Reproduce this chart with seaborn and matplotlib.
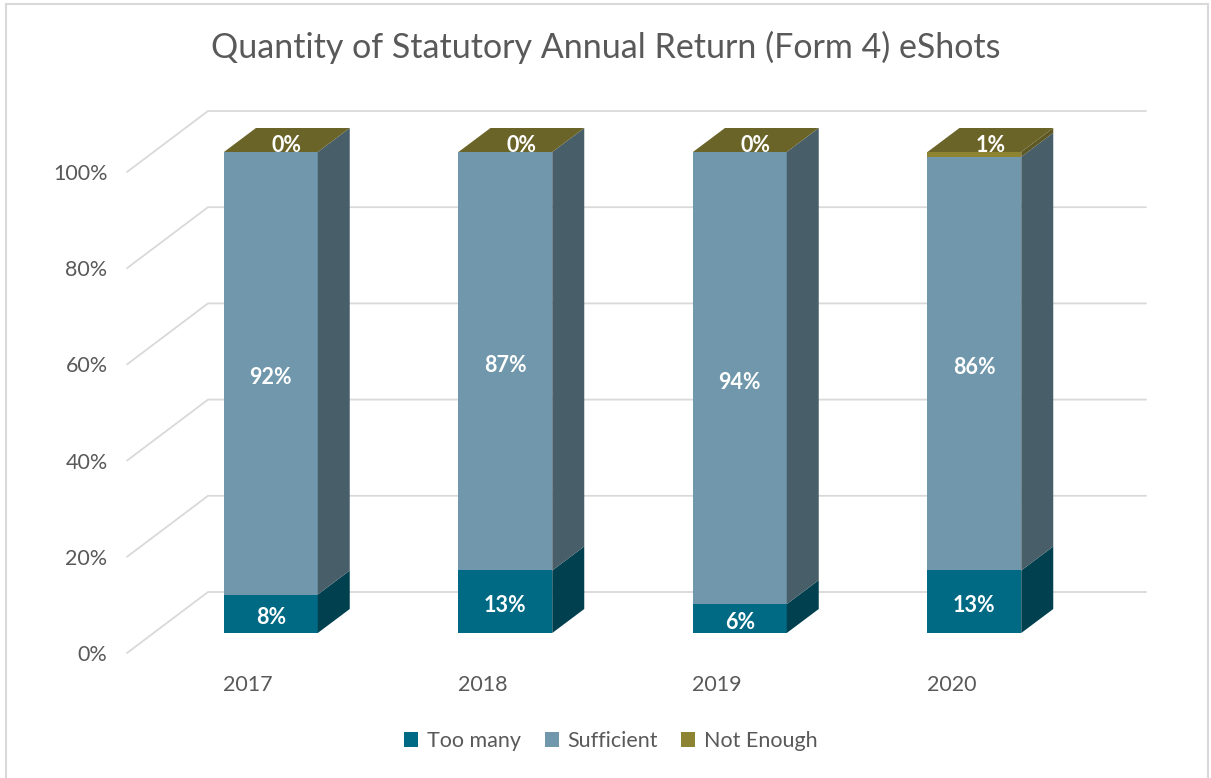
import numpy as np
import pandas as pd
import seaborn as sns
import matplotlib.pyplot as plt
from matplotlib.patches import Polygon, Rectangle, Patch
from matplotlib.transforms import ScaledTranslation

# data
years = ["2017", "2018", "2019", "2020"]
too_many = [8, 13, 6, 13]
sufficient = [92, 87, 94, 86]
not_enough = [0, 0, 0, 1]
series = ["Too many", "Sufficient", "Not Enough"]

front_cols = ["#006a84", "#7097ab", "#8d8433"]
side_cols = ["#00404f", "#485f69", "#5e5824"]
top_col = "#6b6428"
grey = "#595959"
grid_col = "#d9d9d9"

df = pd.DataFrame({"Year": years, "Too many": too_many,
                   "Sufficient": sufficient, "Not Enough": not_enough})

sns.set_theme(style="white")
plt.rcParams["font.family"] = ["Lato", "DejaVu Sans"]

W, H = 1211, 778
fig = plt.figure(figsize=(W / 100, H / 100), dpi=100)
# axes = front edge of the floor (depth 0)
ax = fig.add_axes([127 / W, 125 / H, 938 / W, 481 / H])
ax.set_xlim(-0.5, 3.5)
ax.set_ylim(0, 100)

# depth offsets in pixels (bar front face, bar back face, back wall)
F = (26.6, 20)
B = (58.6, 44)
WALL = (81, 61)


def off(x, y, d):
    p = ax.transData.transform((x, y)) + np.array(d)
    return ax.transData.inverted().transform(p)


# 3d grid: diagonal on the left wall, then back wall
for t in range(0, 101, 20):
    p0 = off(-0.5, t, (0, 0))
    p1 = off(-0.5, t, WALL)
    p2 = off(3.5, t, WALL)
    ax.plot([p0[0], p1[0], p2[0]], [p0[1], p1[1], p2[1]], color=grid_col,
            lw=1.3, clip_on=False, zorder=1, solid_joinstyle="miter")

# stacked bars (front faces)
bottom = np.zeros(len(years))
for name, c in zip(series, front_cols):
    sns.barplot(data=df, x="Year", y=name, color=c, saturation=1, width=0.4,
                bottom=bottom.copy(), ax=ax, zorder=3, linewidth=0)
    bottom += df[name].to_numpy()

shift = ax.transData + ScaledTranslation(F[0] / 100, F[1] / 100, fig.dpi_scale_trans)
bars = list(ax.patches)
for k, p in enumerate(bars):
    p.set_transform(shift)
    p.set_clip_on(False)
    s = k // len(years)
    x0, x1 = p.get_x(), p.get_x() + p.get_width()
    y0, y1 = p.get_y(), p.get_y() + p.get_height()
    # side face
    side = [off(x1, y0, F), off(x1, y1, F), off(x1, y1, B), off(x1, y0, B)]
    ax.add_patch(Polygon(side, closed=True, fc=side_cols[s], ec="none",
                         clip_on=False, zorder=3))
    if s == len(series) - 1:
        top = [off(x0, y1, F), off(x1, y1, F), off(x1, y1, B), off(x0, y1, B)]
        ax.add_patch(Polygon(top, closed=True, fc=top_col, ec="none",
                             clip_on=False, zorder=3))
        lx, ly = off((x0 + x1) / 2, y1, (F[0] + (B[0] - F[0]) / 2, F[1] + 6))
    else:
        lx, ly = off((x0 + x1) / 2, (y0 + y1) / 2, (F[0], F[1] - 4))
    val = df[series[s]].iloc[k % len(years)]
    ax.text(lx, ly, f"{val:.0f}%", ha="center", va="center", color="white",
            fontsize=15.5, fontweight="bold", zorder=5)

ax.set_yticks(range(0, 101, 20))
ax.set_yticklabels([f"{t}%" for t in range(0, 101, 20)])
ax.tick_params(axis="y", length=0, pad=14, labelsize=15.5, labelcolor=grey)
ax.tick_params(axis="x", length=0, pad=16, labelsize=15.5, labelcolor=grey)
for lbl in ax.get_xticklabels():
    lbl.set_transform(lbl.get_transform() + ScaledTranslation(0.04, 0, fig.dpi_scale_trans))
ax.set_xlabel("")
ax.set_ylabel("")
for sp in ax.spines.values():
    sp.set_visible(False)
ax.set_facecolor("none")

fig.text(606 / W, 1 - 47 / H, "Quantity of Statutory Annual Return (Form 4) eShots",
         ha="center", va="center", fontsize=24.5, color=grey)

handles = [Patch(fc=c, ec="none", label=n) for n, c in zip(series, front_cols)]
fig.legend(handles=handles, loc="center", bbox_to_anchor=(611 / W, 1 - 741 / H),
           ncol=3, frameon=False, fontsize=15.5, handlelength=0.65, handleheight=0.65,
           handletextpad=0.4, columnspacing=1.1, labelcolor=grey)

fig.patches.append(Rectangle((6 / W, -0.01), 1202 / W, (H - 4) / H + 0.01,
                             transform=fig.transFigure, fill=False,
                             ec=grid_col, lw=1.5))

fig.savefig("out.png", dpi=100, facecolor="white")
